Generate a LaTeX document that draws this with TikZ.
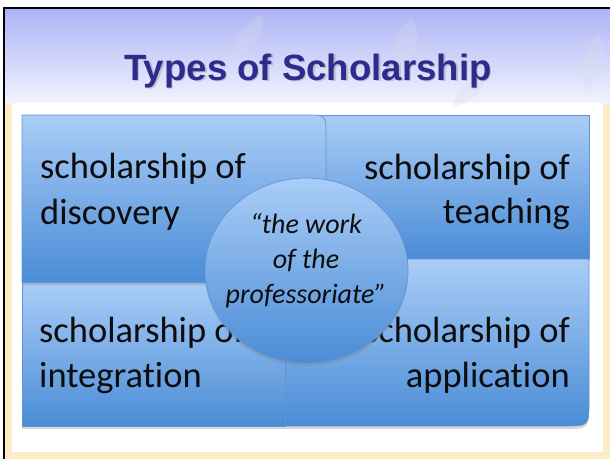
\documentclass[tikz,border=0pt]{standalone}
\usepackage{fontspec}
\newfontfamily\carl[Ligatures=NoCommon]{Carlito}
\newfontfamily\titlefont{Liberation Sans}
\usetikzlibrary{shadows,shapes.geometric}
\definecolor{boxtop}{RGB}{170,205,247}
\definecolor{boxbot}{RGB}{74,140,214}
\definecolor{boxline}{RGB}{98,148,208}
\definecolor{navy}{RGB}{43,44,140}
\definecolor{beige}{RGB}{252,236,198}
\definecolor{titletop}{RGB}{172,180,246}
\definecolor{titlebot}{RGB}{242,243,253}
\definecolor{leafc}{RGB}{215,220,235}
\begin{document}
\begin{tikzpicture}[x=1pt,y=-1pt,
  quad/.style={top color=boxtop, bottom color=boxbot, draw=boxline, line width=0.7pt,
    drop shadow={opacity=0.3, shadow xshift=0pt, shadow yshift=-3pt}},
  big/.style={font=\carl\fontsize{36.5}{44}\selectfont, inner sep=0pt, text=black!95},
  quote/.style={font=\carl\itshape\fontsize{28}{34}\selectfont, inner sep=0pt, text=black!95, anchor=base},
  leaf/.style={fill=leafc, opacity=0.3, draw=none}
]
\useasboundingbox (0,0) rectangle (610,459);
% page background and frame
\fill[white] (0,0) rectangle (610,459);
\fill[beige] (5,9) rectangle (610,459);
\shade[top color=titletop, bottom color=titlebot] (5,9) rectangle (610,103);
\fill[white] (12,103) rectangle (603,452);
\draw[black, line width=2.5pt] (4,459) -- (4,8) -- (610,8);
% faint leaves
\path[leaf] (228,62) .. controls (232,38) and (248,22) .. (262,14) .. controls (266,34) and (252,54) .. (228,62) -- cycle;
\path[leaf] (398,72) .. controls (388,50) and (396,30) .. (412,18) .. controls (424,40) and (416,60) .. (398,72) -- cycle;
\path[leaf] (586,92) .. controls (578,70) and (586,48) .. (598,32) .. controls (608,54) and (602,76) .. (586,92) -- cycle;
\path[leaf] (452,108) .. controls (456,90) and (468,78) .. (488,72) .. controls (484,92) and (470,104) .. (452,108) -- cycle;
% title
\node[anchor=base, font=\titlefont\bfseries\fontsize{36.6}{40}\selectfont, text=gray, opacity=0.35, inner sep=0pt] (titleshadow) at (309.5,81.5) {Types of Scholarship};
\node[anchor=base, font=\titlefont\bfseries\fontsize{36.6}{40}\selectfont, text=navy, inner sep=0pt] (title) at (308,80) {Types of Scholarship};
% quadrants
\path[quad] (290,115) -- (589,115) -- (589,259) -- (290,259) -- cycle;
\path[quad] (285,259) -- (589,259) -- (589,401) .. controls (589,426) .. (564,426) -- (285,426) -- cycle;
\path[quad] (22,282) -- (285,282) -- (285,426) -- (22,426) -- cycle;
\path[quad] (22,282) -- (22,115) -- (306,115) .. controls (326,115) .. (326,135) -- (326,282) -- cycle;
% quadrant texts
\node[big, anchor=base west] (tl1) at (40,178) {scholarship of};
\node[big, anchor=base west] (tl2) at (40,224) {discovery};
\node[big, anchor=base east] (tr1) at (570,179) {scholarship of};
\node[big, anchor=base east] (tr2) at (570,223) {teaching};
\node[big, anchor=base west] (bl1) at (39,342) {scholarship of};
\node[big, anchor=base west] (bl2) at (39,387) {integration};
\node[big, anchor=base east] (br1) at (570,342) {scholarship of};
\node[big, anchor=base east] (br2) at (570,387) {application};
% centre
\node[ellipse, minimum width=203pt, minimum height=185pt, inner sep=0pt,
  top color=boxtop, bottom color=boxbot, draw=boxline, line width=0.7pt,
  drop shadow={opacity=0.3, shadow xshift=0pt, shadow yshift=-3pt}] (core) at (306.5,270.5) {};
\node[quote] (q1) at (306,233) {“the work};
\node[quote] (q2) at (306,268) {of the};
\node[quote] (q3) at (306,303) {professoriate”};
\end{tikzpicture}
\end{document}
